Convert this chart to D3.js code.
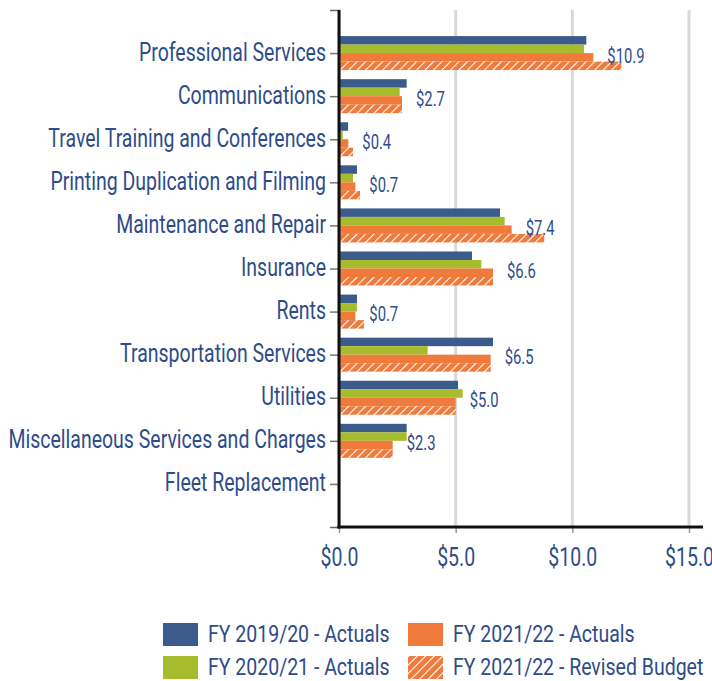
<!DOCTYPE html>
<html>
<head>
<meta charset="utf-8">
<script src="https://cdn.jsdelivr.net/npm/d3@7"></script>
<style>
  html, body { margin: 0; padding: 0; background: #fff; }
  svg { display: block; }
  text { font-family: Roboto, "Noto Sans", sans-serif; fill: #2E4C8A; }
</style>
</head>
<body>
<svg id="chart" width="712" height="681"></svg>
<script>
const categories = [
  "Professional Services",
  "Communications",
  "Travel Training and Conferences",
  "Printing Duplication and Filming",
  "Maintenance and Repair",
  "Insurance",
  "Rents",
  "Transportation Services",
  "Utilities",
  "Miscellaneous Services and Charges",
  "Fleet Replacement"
];
const fy1920Actuals = [10.6, 2.9, 0.39, 0.77, 6.9, 5.7, 0.77, 6.6, 5.1, 2.9, 0];
const fy2021Actuals = [10.5, 2.6, 0.16, 0.6, 7.1, 6.1, 0.77, 3.8, 5.3, 2.9, 0];
const fy2122Actuals = [10.9, 2.7, 0.4, 0.7, 7.4, 6.6, 0.7, 6.5, 5.0, 2.3, 0];
const fy2122Budget  = [12.1, 2.7, 0.6, 0.9, 8.8, 6.6, 1.07, 6.5, 5.0, 2.3, 0];
const seriesNames = ["FY 2019/20 - Actuals", "FY 2020/21 - Actuals", "FY 2021/22 - Actuals", "FY 2021/22 - Revised Budget"];
const xTickValues = [0, 5, 10, 15];

const seriesData = [fy1920Actuals, fy2021Actuals, fy2122Actuals, fy2122Budget];
const colors = ["#3B5B8D", "#A7BC2C", "#EF7A3B", "url(#hatch)"];
const SX = 0.78; // condensed look

const svg = d3.select("#chart");
const defs = svg.append("defs");
const pat = defs.append("pattern").attr("id", "hatch")
  .attr("patternUnits", "userSpaceOnUse").attr("width", 6).attr("height", 6)
  .attr("patternTransform", "rotate(45)");
pat.append("rect").attr("width", 6).attr("height", 6).attr("fill", "#EF7A3B");
pat.append("line").attr("x1", 0).attr("y1", 0).attr("x2", 0).attr("y2", 6)
  .attr("stroke", "#fff").attr("stroke-width", 2.2);

const mLeft = 339, mRight = 703, mTop = 10, mBottom = 527;
const x = d3.scaleLinear().domain([0, 15.6]).range([mLeft, mRight]);
const y = d3.scalePoint().domain(categories).range([mTop, mBottom]).padding(1);
const inner = d3.scaleBand().domain(d3.range(4)).range([-17, 17]);

// gridlines
svg.append("g").selectAll("line").data(xTickValues.filter(d => d > 0)).join("line")
  .attr("x1", d => x(d)).attr("x2", d => x(d)).attr("y1", mTop).attr("y2", mBottom)
  .attr("stroke", "#D9D9D9").attr("stroke-width", 3);

// bars
const groups = svg.append("g").selectAll("g").data(categories).join("g")
  .attr("transform", d => `translate(0,${y(d)})`);
groups.each(function(cat, i) {
  d3.select(this).selectAll("rect").data(seriesData.map((s, k) => ({k, v: s[i]}))).join("rect")
    .attr("x", x(0))
    .attr("y", d => inner(d.k))
    .attr("height", inner.bandwidth())
    .attr("width", d => x(d.v) - x(0))
    .attr("fill", d => colors[d.k]);
});

// value labels (FY 2021/22 Actuals)
svg.append("g").selectAll("text").data(categories.filter((c, i) => fy2122Actuals[i] > 0)).join("text")
  .attr("transform", d => `translate(${x(fy2122Actuals[categories.indexOf(d)]) + 14},${y(d) + 9.5}) scale(0.76,1)`)
  .attr("font-size", 19.5)
  .text(d => "$" + fy2122Actuals[categories.indexOf(d)].toFixed(1));

// y axis
const yAxis = svg.append("g").attr("transform", `translate(${mLeft},0)`)
  .call(d3.axisLeft(y).tickSizeInner(9).tickSizeOuter(9).tickPadding(0));
yAxis.select(".domain").attr("stroke", "#666").attr("stroke-width", 1.5);
yAxis.selectAll(".tick line").attr("stroke", "#777").attr("stroke-width", 1.5);
yAxis.selectAll(".tick text")
  .attr("x", null).attr("dy", null)
  .attr("transform", `translate(-13,7) scale(${SX},1)`)
  .attr("font-size", 25).attr("font-family", "Roboto").attr("fill", "#2E4C8A")
  .attr("text-anchor", "end");

// x axis
const xAxis = svg.append("g").attr("transform", `translate(0,${mBottom})`)
  .call(d3.axisBottom(x).tickValues(xTickValues).tickSizeInner(6).tickSizeOuter(0).tickFormat(d => "$" + d.toFixed(1)));
xAxis.select(".domain").remove();
xAxis.selectAll(".tick line").attr("stroke", "#999").attr("stroke-width", 1.5);
xAxis.selectAll(".tick text")
  .attr("y", null).attr("dy", null)
  .attr("transform", `translate(0,39) scale(${SX},1)`)
  .attr("font-size", 25).attr("font-family", "Roboto").attr("fill", "#2E4C8A");

// black axis lines
svg.append("line").attr("x1", x(0)).attr("x2", x(0)).attr("y1", y.range()[0]).attr("y2", y.range()[1] + 1.5)
  .attr("stroke", "#111").attr("stroke-width", 3);
svg.append("line").attr("x1", x(0) - 1.5).attr("x2", mRight).attr("y1", mBottom).attr("y2", mBottom)
  .attr("stroke", "#111").attr("stroke-width", 3);

// legend
const legendPos = [[163, 623], [163, 656], [408, 623], [408, 656]];
const legendOrder = [0, 1, 2, 3];
const lg = svg.append("g").selectAll("g").data(legendOrder).join("g")
  .attr("transform", k => `translate(${legendPos[k][0]},${legendPos[k][1]})`);
lg.append("rect").attr("width", 35).attr("height", 23).attr("fill", k => colors[k]);
lg.append("text").attr("transform", `translate(45,19) scale(0.83,1)`)
  .attr("font-size", 23.5).text(k => seriesNames[k]);
</script>
</body>
</html>
